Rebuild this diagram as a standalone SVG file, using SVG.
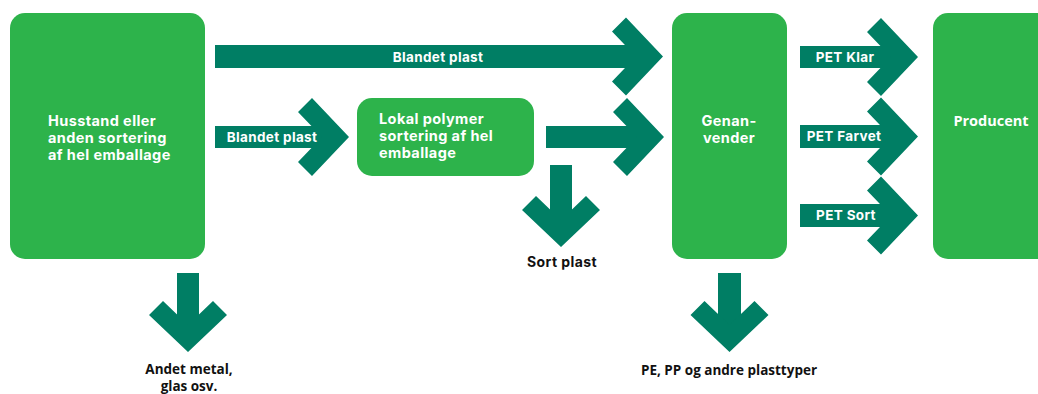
<svg xmlns="http://www.w3.org/2000/svg" xmlns:xlink="http://www.w3.org/1999/xlink" width="1038" height="394" viewBox="0 0 1038 394">
  <style>
    .node { fill: #2DB34B; }
    .arrow { fill: #007E64; }
    .wt { fill: #FFFFFF; font-family: Inter, "Noto Sans", "DejaVu Sans", sans-serif; font-weight: 700; font-size: 14.5px; letter-spacing: 0.4px; }
    .at { fill: #FFFFFF; font-family: Inter, "Noto Sans", "DejaVu Sans", sans-serif; font-weight: 700; font-size: 13.5px; letter-spacing: 0.35px; text-anchor: middle; }
    .wc { text-anchor: middle; }
    .bt { fill: #111111; font-family: "Open Sans", "Noto Sans", sans-serif; font-weight: 700; font-size: 13.5px; text-anchor: middle; }
    .pt { fill: #111111; font-family: Inter, "Noto Sans", sans-serif; font-weight: 700; font-size: 14px; letter-spacing: 0.4px; text-anchor: middle; }
  </style>
  <defs>
    <path id="chev-r" d="M-37,-39 L0,0 L-37,39 L-51,25 L-27,0 L-51,-25 Z"/>
    <path id="chev-d" d="M39,-37 L0,0 L-39,-37 L-25,-51 L0,-27 L25,-51 Z"/>
  </defs>
  <rect width="1038" height="394" fill="#FFFFFF"/>

  <g id="n-husstand">
    <rect class="node" x="10" y="13" width="195" height="246" rx="15"/>
    <text class="wt" x="48" y="126">Husstand eller</text>
    <text class="wt" x="48" y="143">anden sortering</text>
    <text class="wt" x="48" y="160">af hel emballage</text>
  </g>

  <g id="n-lokal">
    <rect class="node" x="357" y="98" width="177" height="78" rx="15"/>
    <text class="wt" x="379" y="124">Lokal polymer</text>
    <text class="wt" x="379" y="141">sortering af hel</text>
    <text class="wt" x="379" y="158">emballage</text>
  </g>

  <g id="n-genanvender">
    <rect class="node" x="672" y="13" width="115" height="246" rx="15"/>
    <text class="wt wc" x="729" y="126">Genan-</text>
    <text class="wt wc" x="729" y="143">vender</text>
  </g>

  <g id="n-producent">
    <rect class="node" x="933" y="13" width="125" height="246" rx="15"/>
    <text class="wt wc" x="991" y="126" style="font-family:'Open Sans','Noto Sans',sans-serif;font-size:14.5px;letter-spacing:0">Producent</text>
  </g>

  <g id="connectors">
    <g id="c-top">
      <rect class="arrow" x="215" y="45" width="428" height="23"/>
      <use xlink:href="#chev-r" class="arrow" x="663" y="56.5"/>
      <text class="at" x="438" y="61.5">Blandet plast</text>
    </g>
    <g id="c-blandet2">
      <rect class="arrow" x="215" y="126" width="114" height="22"/>
      <use xlink:href="#chev-r" class="arrow" x="349" y="137"/>
      <text class="at" x="272" y="142">Blandet plast</text>
    </g>
    <g id="c-lokal-gen">
      <rect class="arrow" x="546" y="126" width="98" height="22"/>
      <use xlink:href="#chev-r" class="arrow" x="664" y="137"/>
    </g>
    <g id="c-sort">
      <rect class="arrow" x="550" y="165" width="22" height="62"/>
      <use xlink:href="#chev-d" class="arrow" x="561" y="247"/>
      <text class="pt" x="562" y="267">Sort plast</text>
    </g>
    <g id="c-andet">
      <rect class="arrow" x="177" y="273" width="22" height="59"/>
      <use xlink:href="#chev-d" class="arrow" x="188" y="352"/>
      <text class="bt" x="189" y="374">Andet metal,</text>
      <text class="bt" x="189" y="391">glas osv.</text>
    </g>
    <g id="c-pepp">
      <rect class="arrow" x="718" y="273" width="23" height="59"/>
      <use xlink:href="#chev-d" class="arrow" x="729.5" y="352"/>
      <text class="bt" x="729" y="375">PE, PP og andre plasttyper</text>
    </g>
    <g id="c-klar">
      <rect class="arrow" x="800" y="46" width="98" height="22"/>
      <use xlink:href="#chev-r" class="arrow" x="918" y="57"/>
      <text class="at" x="845" y="62">PET Klar</text>
    </g>
    <g id="c-farvet">
      <rect class="arrow" x="800" y="125" width="98" height="23"/>
      <use xlink:href="#chev-r" class="arrow" x="918" y="136.5"/>
      <text class="at" x="844" y="141">PET Farvet</text>
    </g>
    <g id="c-sortpet">
      <rect class="arrow" x="800" y="204" width="98" height="23"/>
      <use xlink:href="#chev-r" class="arrow" x="918" y="215.5"/>
      <text class="at" x="846" y="220">PET Sort</text>
    </g>
  </g>
</svg>
